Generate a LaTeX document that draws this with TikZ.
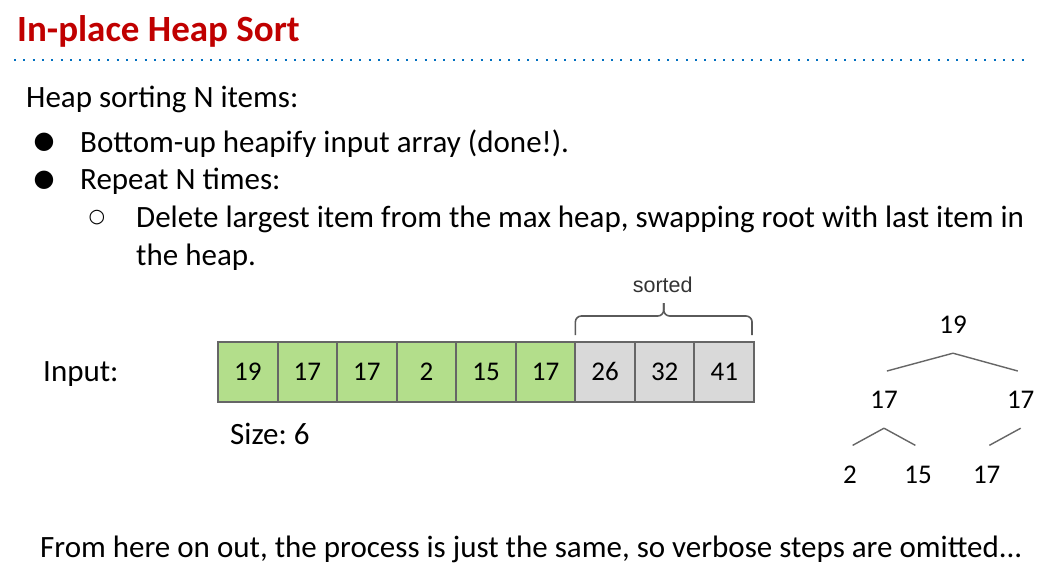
\documentclass[tikz,border=0pt]{standalone}
\usepackage{fontspec}
\setmainfont{Carlito}
\newfontfamily\arialfont{Liberation Sans}
\newfontfamily\symfont{DejaVu Sans}
\usetikzlibrary{calc}
\frenchspacing
\definecolor{titlered}{RGB}{192,0,0}
\definecolor{ruleblue}{RGB}{0,112,192}
\definecolor{cellgreen}{RGB}{179,222,139}
\definecolor{cellgray}{RGB}{217,217,217}
\definecolor{linegray}{RGB}{102,102,102}
\definecolor{bracegray}{RGB}{90,90,90}
\tikzset{
  body/.style={anchor=base west, inner sep=0, font=\fontsize{31}{36}\selectfont},
  bulletmark/.style={inner sep=0, font=\symfont\fontsize{24}{28}\selectfont},
  cell/.style={draw=linegray, line width=2pt, minimum width=59.56pt, minimum height=60pt,
    inner sep=0, text height=17pt, text depth=0pt, font=\fontsize{27}{30}\selectfont},
  bracepath/.style={draw=bracegray, line width=1.6pt, rounded corners=6pt},
  tnode/.style={inner sep=0, minimum height=56pt, text height=17pt, text depth=0pt,
    font=\fontsize{27}{30}\selectfont},
  edge/.style={draw=linegray, line width=1.4pt, shorten >=3pt},
}
\begin{document}
\begin{tikzpicture}[x=1pt, y=-1pt]
\useasboundingbox (0,0) rectangle (1061,581);
\fill[white] (0,0) rectangle (1061,581);

% heading and dotted rule
\node[anchor=base west, inner sep=0, text=titlered,
  font=\fontsize{37}{40}\selectfont\bfseries] (title) at (17,41) {In-place Heap Sort};
\draw[ruleblue, line width=2pt, dash pattern=on 2pt off 7.33pt] (14,60) -- (1024,60);

% bullet list
\node[body] (intro) at (26,107) {Heap sorting N items:};
\node[bulletmark] (b1) at (44,142) {●};
\node[body] (l1) at (80,152) {Bottom-up heapify input array (done!).};
\node[bulletmark] (b2) at (44,180) {●};
\node[body] (l2) at (80,189) {Repeat N times:};
\node[bulletmark, font=\symfont\fontsize{19}{22}\selectfont] (b3) at (97,218) {○};
\node[body] (l3) at (136,227) {Delete largest item from the max heap, swapping root with last item in};
\node[body] (l4) at (136,265) {the heap.};

% array
\node[body] (inlabel) at (43,381) {Input:};
\foreach \v [count=\i] in {19,17,17,2,15,17}
  \node[cell, fill=cellgreen] (c\i) at ({218+59.56*(\i-0.5)},372) {\v};
\foreach \v [count=\i from 7] in {26,32,41}
  \node[cell, fill=cellgray] (c\i) at ({218+59.56*(\i-0.5)},372) {\v};
\node[body] (size) at (230,444) {Size: 6};

% brace over the sorted part
\coordinate (bl) at ($(c7.north west)+(1,-6)$);
\coordinate (br) at ($(c9.north east)+(-3,-6)$);
\coordinate (bm) at ($(bl)!0.5!(br)$);
\coordinate (btip) at ($(bm)+(0,-32)$);
\draw[bracepath] (bl) -- ++(0,-19) -| (btip);
\draw[bracepath] (br) -- ++(0,-19) -| (btip);
\node[inner sep=0, text=black!80, font=\arialfont\fontsize{21.5}{24}\selectfont]
  (sorted) at ($(bm)+(-1,-50)$) {sorted};

% heap as a tree
\node[tnode] (t1) at (953,325) {19};
\node[tnode] (t2) at (884,400) {17};
\node[tnode] (t3) at (1020.7,400) {17};
\node[tnode] (t4) at (850,475) {2};
\node[tnode] (t5) at (918,475) {15};
\node[tnode] (t6) at (986.7,475) {17};
\draw[edge] (t1.south) -- (t2.north);
\draw[edge] (t1.south) -- (t3.north);
\draw[edge] (t2.south) -- (t4.north);
\draw[edge] (t2.south) -- (t5.north);
\draw[edge] (t3.south) -- (t6.north);

\node[body] (outro) at (40,557) {From here on out, the process is just the same, so verbose steps are omitted...};
\end{tikzpicture}
\end{document}
